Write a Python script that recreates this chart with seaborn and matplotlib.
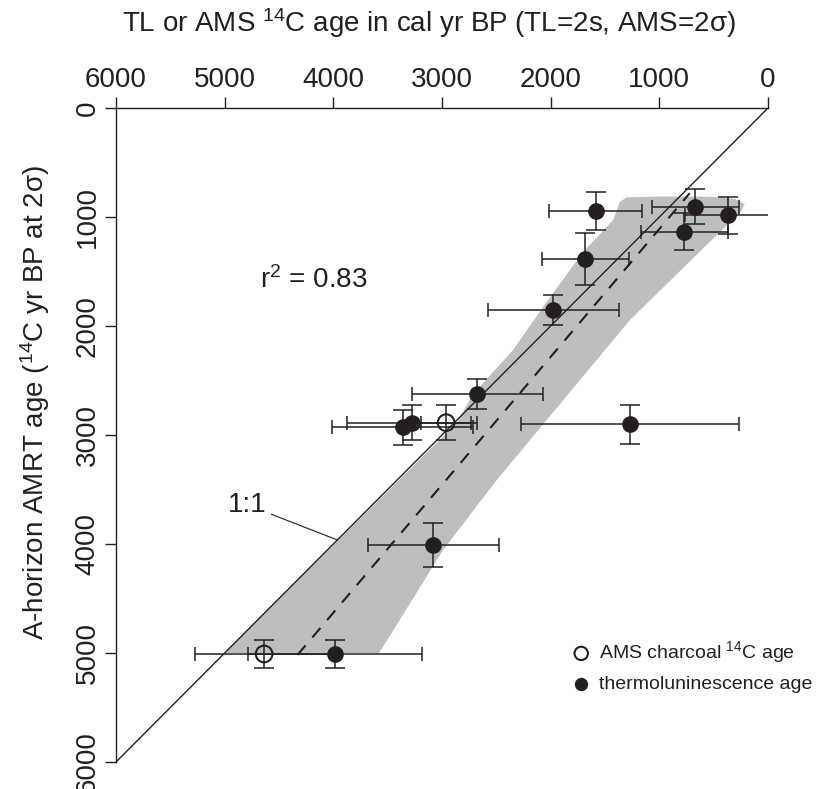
import matplotlib
matplotlib.use("Agg")
import matplotlib.pyplot as plt
import seaborn as sns

# --- values (ages in yr) ---
# thermoluminescence samples: TL age, A-horizon AMRT age, 2s errors
tl_age = [1585, 1680, 670, 365, 770, 1975, 2674, 3361, 3278, 1270, 3080, 3983]
tl_amrt = [945, 1385, 905, 982, 1135, 1853, 2624, 2930, 2887, 2902, 4010, 5009]
tl_xerr = [430, 400, 400, 400, 400, 600, 600, 650, 600, 1000, 600, 800]
tl_yerr = [170, 235, 160, 170, 170, 140, 140, 160, 160, 180, 200, 125]

# AMS charcoal samples
ams_age = [2962, 4637]
ams_amrt = [2887, 5009]
ams_xerr = [230, 634]
ams_yerr = [160, 125]

# 1:1 reference and fitted line
one_to_one = [0, 6000]
fit_x = [4330, 720]
fit_y = [5018, 781]

# grey envelope around the fit
band_x = [5000, 3580, 2864, 2714, 2346, 2024, 1700, 1426, 1362, 1300, 1000,
          500, 300, 215, 250, 1270, 2496, 2990, 3578]
band_y = [5000, 3596, 2890, 2624, 2220, 1761, 1320, 1028, 860, 820, 812,
          815, 835, 885, 950, 1945, 3413, 4055, 5000]

ticks = [0, 1000, 2000, 3000, 4000, 5000, 6000]

ink = "#231f20"

sns.set_theme(style="ticks")
plt.rcParams["font.family"] = ["Liberation Sans", "DejaVu Sans"]
plt.rcParams["mathtext.default"] = "regular"

fig = plt.figure(figsize=(8.16, 7.89), dpi=100)
ax = fig.add_axes([116 / 816, 1 - 762 / 789, 652 / 816, 654 / 789])

# envelope, 1:1 line, fit
ax.fill(band_x, band_y, color="#bcbec0", lw=0, zorder=1)
ax.plot(one_to_one, one_to_one, color=ink, lw=1.0, zorder=2)
ax.plot(fit_x, fit_y, color=ink, lw=1.5, linestyle=(0, (6, 5)), zorder=2)

# error bars (x caps shorter than y caps)
for xs, ys, xe, ye in [(tl_age, tl_amrt, tl_xerr, tl_yerr),
                       (ams_age, ams_amrt, ams_xerr, ams_yerr)]:
    ax.errorbar(xs, ys, xerr=xe, fmt="none", ecolor=ink, elinewidth=1.1,
                capsize=4.7, capthick=1.1, zorder=3)
    ax.errorbar(xs, ys, yerr=ye, fmt="none", ecolor=ink, elinewidth=1.1,
                capsize=6.9, capthick=1.1, zorder=3)

# points
sns.scatterplot(x=ams_age, y=ams_amrt, ax=ax, s=144, color="white",
                edgecolor=ink, linewidth=1.5, zorder=4,
                label="AMS charcoal $^{14}$C age")
ax.collections[-1].set_facecolor("none")
sns.scatterplot(x=tl_age, y=tl_amrt, ax=ax, s=144, color=ink,
                edgecolor=ink, linewidth=0, zorder=4,
                label="thermoluninescence age")

# axes styling
ax.set_xlim(6000, 0)
ax.set_ylim(6000, 0)
ax.set_xticks(ticks)
ax.set_yticks(ticks)
ax.xaxis.tick_top()
ax.xaxis.set_label_position("top")
for side in ["right", "bottom"]:
    ax.spines[side].set_visible(False)
for side in ["top", "left"]:
    ax.spines[side].set_color(ink)
    ax.spines[side].set_linewidth(1.0)
ax.tick_params(axis="both", direction="out", length=8, width=1.0,
               color=ink, labelcolor=ink, labelsize=20, pad=3)
plt.setp(ax.get_yticklabels(), rotation=90, va="center")

ax.set_xlabel("TL or AMS $^{14}$C age in cal yr BP (TL=2s, AMS=2σ)",
              fontsize=20, color=ink)
ax.xaxis.set_label_coords(0.48, 1.0 + 76 / 654)
ax.set_ylabel("A-horizon AMRT age ($^{14}$C yr BP at 2σ)",
              fontsize=20, color=ink)
ax.yaxis.set_label_coords(-64 / 652, 0.55)

ax.text(4673, 1578, "r$^2$ = 0.83", fontsize=20, color=ink,
        ha="left", va="center")
ax.annotate("1:1", xy=(3963, 3963), xytext=(4968, 3642), fontsize=20,
            color=ink, ha="left", va="center",
            arrowprops=dict(arrowstyle="-", color=ink, lw=0.8,
                            shrinkA=1, shrinkB=0))

leg = ax.legend(loc="upper left", bbox_to_anchor=(554 / 816, 1 - 622 / 789),
                bbox_transform=fig.transFigure, frameon=False, fontsize=14,
                markerscale=0.8, handlelength=1.0, handletextpad=0.4,
                labelspacing=0.5)
for t in leg.get_texts():
    t.set_color(ink)

fig.savefig("out.png", dpi=100)
